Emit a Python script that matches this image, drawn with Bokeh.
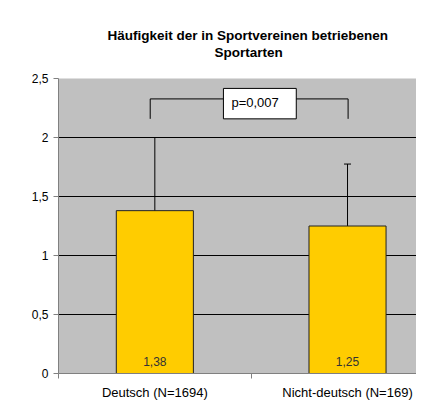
from bokeh.plotting import figure
from bokeh.models import (ColumnDataSource, Range1d, FixedTicker, Whisker, TeeHead, Title)
from bokeh.core.properties import value
from bokeh.embed import file_html
from bokeh.resources import INLINE

# ---- data ----
categories = ["Deutsch (N=1694)", "Nicht-deutsch (N=169)"]
cat_pos = [0.5, 1.5]
means = [1.38, 1.25]
sds = [0.62, 0.525]
mean_labels = ["1,38", "1,25"]
yticks = [0, 0.5, 1, 1.5, 2, 2.5]
ytick_labels = ["0", "0,5", "1", "1,5", "2", "2,5"]
cat_bounds = [0, 1, 2]
title_lines = ["Häufigkeit der in Sportvereinen betriebenen", "Sportarten"]
p_text = "p=0,007"
bracket_x = [0.476, 1.503]
bracket_top = 2.327
bracket_foot = 2.158
pbox_x = [0.856, 1.234]
pbox_y = [2.158, 2.416]

FONT = "Liberation Sans"

p = figure(width=416, height=402, output_backend="svg", toolbar_location=None,
           title=None,
           x_range=Range1d(0, 1.858), y_range=Range1d(0, 2.5),
           min_border_left=58, min_border_right=0, min_border_top=78,
           min_border_bottom=20,
           background_fill_color="#C0C0C0", border_fill_color="white")
p.outline_line_color = None

# title: spacer panel next to the frame, then the two title lines
spacer = Title(text=" ", text_font_size="1px", standoff=16, text_color="white")
t2 = Title(text=title_lines[1], align="left", offset=156, standoff=0,
           text_font=FONT, text_font_size="13.5px", text_font_style="bold",
           text_color="black")
t1 = Title(text=title_lines[0], align="left", offset=49, standoff=0,
           text_font=FONT, text_font_size="13.5px", text_font_style="bold",
           text_color="black")
p.add_layout(spacer, "above")
p.add_layout(t2, "above")
p.add_layout(t1, "above")

# grid
p.xgrid.grid_line_color = None
p.ygrid.ticker = FixedTicker(ticks=yticks)
p.ygrid.grid_line_color = "black"
p.ygrid.grid_line_width = 1

# y axis
p.yaxis.ticker = FixedTicker(ticks=yticks)
p.yaxis.major_label_overrides = {t: l for t, l in zip(yticks, ytick_labels)}
p.yaxis.major_label_text_font = FONT
p.yaxis.major_label_text_font_size = "12px"
p.yaxis.major_label_text_color = "black"
p.yaxis.axis_line_color = "#808080"
p.yaxis.major_tick_line_color = "#808080"
p.yaxis.major_tick_out = 5
p.yaxis.major_tick_in = 0
p.yaxis.minor_tick_line_color = None
p.yaxis.major_label_standoff = 5

# x axis
p.xaxis.ticker = FixedTicker(ticks=cat_pos, minor_ticks=cat_bounds)
p.xaxis.major_label_overrides = {t: c for t, c in zip(cat_pos, categories)}
p.xaxis.major_label_text_font = FONT
p.xaxis.major_label_text_font_size = "13px"
p.xaxis.major_label_text_color = "black"
p.xaxis.axis_line_color = "#808080"
p.xaxis.major_tick_out = 0
p.xaxis.major_tick_in = 0
p.xaxis.minor_tick_line_color = "#808080"
p.xaxis.minor_tick_out = 5
p.xaxis.minor_tick_in = 0
p.xaxis.major_label_standoff = 6

src = ColumnDataSource(dict(
    x=cat_pos, top=means,
    upper=[m + s for m, s in zip(means, sds)],
    lower=[m - s for m, s in zip(means, sds)],
    lab=mean_labels))

p.vbar(x="x", top="top", width=0.4, source=src, fill_color="#FFCC00",
       line_color="#222222", line_width=1)

w = Whisker(base="x", upper="upper", lower="lower", source=src,
            line_color="black", line_width=1,
            upper_head=TeeHead(size=7, line_color="black", line_width=1),
            lower_head=TeeHead(size=7, line_color="black", line_width=1))
p.add_layout(w)

p.text(x="x", y=0, text="lab", source=src, text_align="center",
       text_baseline="middle", y_offset=-12, text_font=value(FONT),
       text_font_size="12px", text_color="#333333")

# significance bracket
p.multi_line(xs=[[bracket_x[0], bracket_x[0], bracket_x[1], bracket_x[1]]],
             ys=[[bracket_foot, bracket_top, bracket_top, bracket_foot]],
             line_color="black", line_width=1)
p.quad(left=[pbox_x[0]], right=[pbox_x[1]], bottom=[pbox_y[0]], top=[pbox_y[1]],
       fill_color="white", line_color="black", line_width=1)
p.text(x=[pbox_x[0]], y=[(pbox_y[0] + pbox_y[1]) / 2], text=[p_text],
       text_align="left", text_baseline="middle", x_offset=8, y_offset=-1,
       text_font=value(FONT), text_font_size="13px", text_color="black")

open("out.html", "w").write(file_html(p, INLINE))
